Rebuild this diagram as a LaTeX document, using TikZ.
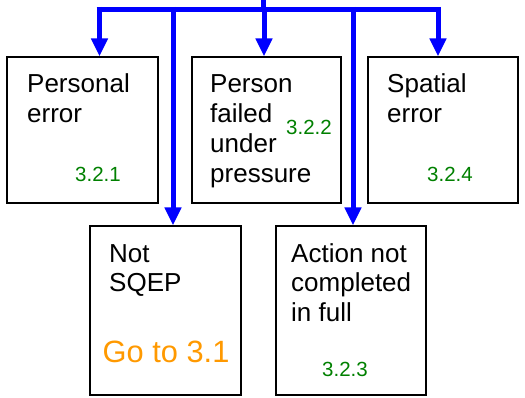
\documentclass[tikz,border=0pt]{standalone}
\usepackage{fontspec}
\setmainfont{Liberation Sans}
\usetikzlibrary{arrows.meta}
\definecolor{flowblue}{RGB}{0,0,255}
\definecolor{numgreen}{RGB}{0,128,0}
\definecolor{goorange}{RGB}{255,153,0}
\begin{document}
\begin{tikzpicture}[x=1pt,y=-1pt,
  box/.style={draw=black,line width=1.4pt,inner sep=0pt},
  lbl/.style={anchor=base west,inner sep=0pt,align=left,font=\fontsize{26}{29.7}\selectfont},
  num/.style={anchor=base west,inner sep=0pt,text=numgreen,font=\fontsize{20.5}{24}\selectfont},
  golbl/.style={anchor=base west,inner sep=0pt,text=goorange,font=\fontsize{30.8}{34}\selectfont},
  flow/.style={draw=flowblue,line width=5pt},
  arr/.style={flow,-{Triangle[width=16pt,length=18pt]}}]
\path[use as bounding box] (0,0) rectangle (525,398);
% boxes
\node[box,minimum width=151pt,minimum height=146pt] (pe) at (82.5,130) {};
\node[box,minimum width=149pt,minimum height=146pt] (pf) at (266.5,130) {};
\node[box,minimum width=150pt,minimum height=146pt] (sp) at (443,130) {};
\node[box,minimum width=151pt,minimum height=169pt] (ns) at (165.5,310.5) {};
\node[box,minimum width=150pt,minimum height=169pt] (ac) at (351,310.5) {};
% texts (base anchor = baseline of last line)
\node[lbl] (t1) at (27,122.7) {Personal\\error};
\node[num] (n1) at (75,182) {3.2.1};
\node[lbl] (t2) at (210,182.1) {Person\\failed\\under\\pressure};
\node[num] (n2) at (286,135) {3.2.2};
\node[lbl] (t3) at (387,122.7) {Spatial\\error};
\node[num] (n4) at (427,182) {3.2.4};
\node[lbl] (t4) at (109,291.7) {Not\\SQEP};
\node[golbl] (go) at (102.5,362) {Go to 3.1};
\node[lbl] (t5) at (291,321.4) {Action not\\completed\\in full};
\node[num] (n3) at (322,376) {3.2.3};
% connectors
\coordinate (top) at (263,0);
\coordinate (bl) at (96.5,9.5);
\coordinate (br) at (440.5,9.5);
\draw[flow] (top) -- (top |- bl);
\draw[flow] (bl) -- (br);
\coordinate (b1) at (99.5,7);
\coordinate (b2) at (264,7);
\coordinate (b3) at (438,7);
\coordinate (b4) at (173,7);
\coordinate (b5) at (353,7);
\draw[arr] (b1) -- (b1 |- pe.north);
\draw[arr] (b2) -- (b2 |- pf.north);
\draw[arr] (b3) -- (b3 |- sp.north);
\draw[arr] (b4) -- (b4 |- ns.north);
\draw[arr] (b5) -- (b5 |- ac.north);
\end{tikzpicture}
\end{document}
